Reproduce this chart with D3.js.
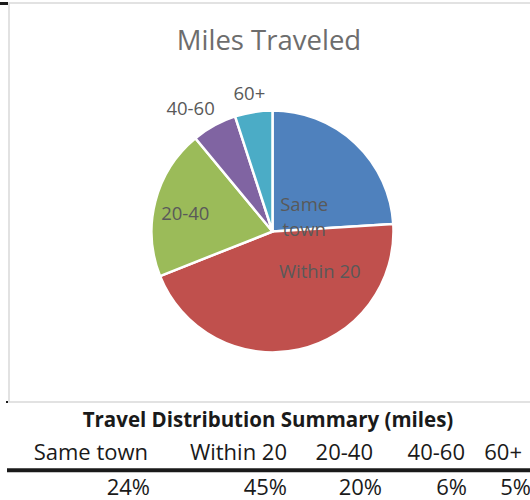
<!DOCTYPE html>
<html>
<head>
<meta charset="utf-8">
<script src="https://cdn.jsdelivr.net/npm/d3@7"></script>
<style>
  body { margin: 0; background: #fff; }
  svg { display: block; }
  text { font-family: "Open Sans", "Noto Sans", sans-serif; }
</style>
</head>
<body>
<script>
// Data
const categories = ["Same town", "Within 20", "20-40", "40-60", "60+"];
const shares = [24, 45, 20, 6, 5];
const pieLabels = [["Same", "town"], ["Within 20"], ["20-40"], ["40-60"], ["60+"]];
const chartTitle = "Miles Traveled";
const tableTitle = "Travel Distribution Summary (miles)";

const width = 530;
const height = 500;

const colors = ["#4f81bd", "#c0504d", "#9bbb59", "#8064a2", "#4bacc6"];

// label placement: radius from centre and angle shift (deg) from slice mid
const labelPlace = [
  { r: 35, shift: 21.7 },
  { r: 62, shift: -37 },
  { r: 89, shift: -3 },
  { r: 148, shift: -4.8 },
  { r: 140, shift: -0.5 }
];

const svg = d3.select("body")
  .append("svg")
  .attr("width", width)
  .attr("height", height);

// Chart frame
svg.append("rect")
  .attr("x", 9)
  .attr("y", 3)
  .attr("width", 540)
  .attr("height", 399)
  .attr("fill", "none")
  .attr("stroke", "#d9d9d9")
  .attr("stroke-width", 1.5);

svg.append("rect")
  .attr("x", 0).attr("y", 2)
  .attr("width", 8).attr("height", 3)
  .attr("fill", "#1a1a1a");

svg.append("rect")
  .attr("x", 6).attr("y", 401)
  .attr("width", 2).attr("height", 2)
  .attr("fill", "#1a1a1a");

// Title
svg.append("text")
  .attr("x", 269)
  .attr("y", 50)
  .attr("text-anchor", "middle")
  .attr("font-size", 27.5)
  .attr("fill", "#6d6d6d")
  .text(chartTitle);

// Pie
const cx = 272.5, cy = 231.5, radius = 121;

const pie = d3.pie().sort(null).value(d => d);
const arc = d3.arc().innerRadius(0).outerRadius(radius);
const arcs = pie(shares);

const g = svg.append("g").attr("transform", `translate(${cx},${cy})`);

g.selectAll("path")
  .data(arcs)
  .enter()
  .append("path")
  .attr("d", arc)
  .attr("fill", (d, i) => colors[i])
  .attr("stroke", "#fff")
  .attr("stroke-width", 2.5)
  .attr("stroke-linejoin", "round");

const labelSize = 18.5;
const lineH = 25;

g.selectAll(".pie-label")
  .data(arcs)
  .enter()
  .append("text")
  .attr("class", "pie-label")
  .attr("text-anchor", "middle")
  .attr("font-size", labelSize)
  .attr("fill", "#595959")
  .each(function(d, i) {
    const p = labelPlace[i];
    const a = (d.startAngle + d.endAngle) / 2 + p.shift * Math.PI / 180;
    const x = Math.sin(a) * p.r;
    const y = -Math.cos(a) * p.r;
    const lines = pieLabels[i];
    const y0 = y + labelSize * 0.35 - (lines.length - 1) * lineH / 2;
    d3.select(this).selectAll("tspan")
      .data(lines)
      .enter()
      .append("tspan")
      .attr("x", x)
      .attr("y", (t, j) => y0 + j * lineH)
      .text(t => t);
  });

// Summary table
svg.append("text")
  .attr("x", 268)
  .attr("y", 427)
  .attr("text-anchor", "middle")
  .attr("font-size", 20.5)
  .attr("font-weight", "bold")
  .attr("fill", "#1a1a1a")
  .text(tableTitle);

const headerRight = d3.scaleOrdinal().domain(categories).range([148, 287, 373, 465, 522]);
const valueRight = d3.scaleOrdinal().domain(categories).range([150, 287, 382, 467, 531]);

svg.selectAll(".col-head")
  .data(categories)
  .enter()
  .append("text")
  .attr("class", "col-head")
  .attr("x", d => headerRight(d))
  .attr("y", 460)
  .attr("text-anchor", "end")
  .attr("font-size", 22)
  .attr("fill", "#1a1a1a")
  .text(d => d);

svg.append("line")
  .attr("x1", 7).attr("x2", width)
  .attr("y1", 470.3).attr("y2", 470.3)
  .attr("stroke", "#1a1a1a")
  .attr("stroke-width", 4);

svg.selectAll(".col-val")
  .data(categories)
  .enter()
  .append("text")
  .attr("class", "col-val")
  .attr("x", d => valueRight(d))
  .attr("y", 494.5)
  .attr("text-anchor", "end")
  .attr("font-size", 22)
  .attr("fill", "#1a1a1a")
  .text((d, i) => shares[i] + "%");
</script>
</body>
</html>
